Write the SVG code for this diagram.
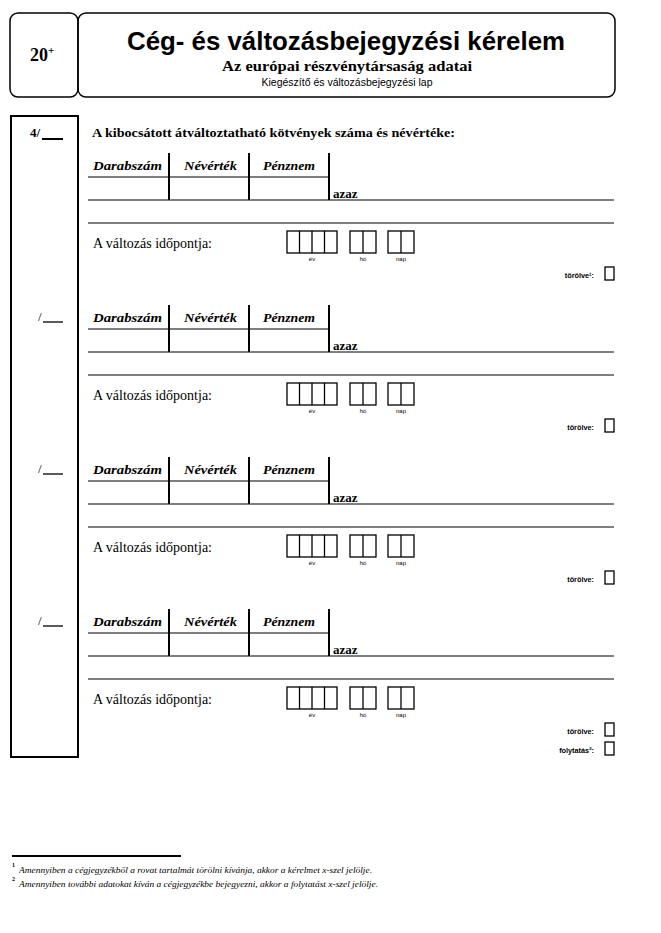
<svg xmlns="http://www.w3.org/2000/svg" width="661" height="933" viewBox="0 0 661 933">
<style>
.frame{fill:none;stroke:#000;stroke-width:1.5}
.col{fill:none;stroke:#000;stroke-width:2}
.h{stroke:#000;stroke-width:1.2}
.v{stroke:#000;stroke-width:2}
.bx{fill:none;stroke:#000;stroke-width:1.3}
.ck{fill:none;stroke:#000;stroke-width:1.3}
.serif{font-family:"Liberation Serif","Times New Roman",serif}
.sans{font-family:"Liberation Sans",Arial,sans-serif}
.title{font-family:"Liberation Sans",Arial,sans-serif;font-weight:bold;font-size:25px}
.sub{font-family:"Liberation Serif",serif;font-weight:bold;font-size:15px}
.sub2{font-family:"Liberation Sans",Arial,sans-serif;font-size:10px}
.hd{font-family:"Liberation Serif",serif;font-weight:bold;font-size:13px}
.th{font-family:"Liberation Serif",serif;font-weight:bold;font-style:italic;font-size:13.5px}
.az{font-family:"Liberation Serif",serif;font-weight:bold;font-size:13px}
.dt{font-family:"Liberation Serif",serif;font-size:14px}
.lb{font-family:"Liberation Sans",Arial,sans-serif;font-size:6px;text-anchor:middle}
.tr{font-family:"Liberation Sans",Arial,sans-serif;font-weight:bold;font-size:7.3px;text-anchor:end}
.num{font-family:"Liberation Serif",serif;font-size:13px}
.fn{font-family:"Liberation Serif",serif;font-style:italic;font-size:8.5px}
.fns{font-family:"Liberation Serif",serif;font-weight:bold;font-size:6px}
</style>
<rect width="661" height="933" fill="#fff"/>

<g id="header">
  <rect class="frame" x="10" y="13" width="68" height="84" rx="8"/>
  <rect class="frame" x="78" y="13" width="537" height="84" rx="8"/>
  <text class="serif" x="30" y="61" font-size="18" font-weight="bold">20<tspan font-size="11" dy="-7">+</tspan></text>
  <text class="title" x="346" y="50" text-anchor="middle" textLength="438" lengthAdjust="spacingAndGlyphs">Cég- és változásbejegyzési kérelem</text>
  <text class="sub" x="347" y="71" text-anchor="middle" textLength="250" lengthAdjust="spacingAndGlyphs">Az európai részvénytársaság adatai</text>
  <text class="sub2" x="347" y="86" text-anchor="middle" textLength="171" lengthAdjust="spacingAndGlyphs">Kiegészítő és változásbejegyzési lap</text>
</g>

<g id="left-column">
  <rect class="col" x="11" y="116" width="67" height="641"/>
  <text class="num" x="30" y="137" font-weight="bold">4/</text>
  <line x1="42" y1="139" x2="63" y2="139" stroke="#000" stroke-width="2"/>
  <text class="num" x="38" y="321">/</text>
  <line x1="43" y1="322" x2="63" y2="322" stroke="#000" stroke-width="1.3"/>
  <text class="num" x="38" y="473">/</text>
  <line x1="43" y1="474" x2="63" y2="474" stroke="#000" stroke-width="1.3"/>
  <text class="num" x="38" y="625">/</text>
  <line x1="43" y1="626" x2="63" y2="626" stroke="#000" stroke-width="1.3"/>
</g>

<g id="section-1">
  <text class="hd" x="92" y="137" textLength="363" lengthAdjust="spacingAndGlyphs">A kibocsátott átváltoztatható kötvények száma és névértéke:</text>
  <line class="v" x1="169" y1="153" x2="169" y2="200"/>
  <line class="v" x1="249" y1="153" x2="249" y2="200"/>
  <line class="v" x1="329" y1="153" x2="329" y2="200"/>
  <text class="th" x="93" y="170" textLength="69" lengthAdjust="spacingAndGlyphs">Darabszám</text>
  <text class="th" x="184" y="170" textLength="53" lengthAdjust="spacingAndGlyphs">Névérték</text>
  <text class="th" x="263" y="170" textLength="52" lengthAdjust="spacingAndGlyphs">Pénznem</text>
  <line class="h" x1="88" y1="177" x2="329" y2="177"/>
  <line class="h" x1="88" y1="200" x2="614" y2="200"/>
  <text class="az" x="333" y="198">azaz</text>
  <line class="h" x1="88" y1="223" x2="614" y2="223"/>
  <text class="dt" x="93" y="248">A változás időpontja:</text>
  <rect class="bx" x="287" y="231" width="50" height="22"/>
  <line class="bx" x1="299.5" y1="231" x2="299.5" y2="253" stroke-width="2"/>
  <line class="bx" x1="312" y1="231" x2="312" y2="253"/>
  <line class="bx" x1="324.5" y1="231" x2="324.5" y2="253"/>
  <rect class="bx" x="350" y="231" width="26" height="22"/>
  <line class="bx" x1="363" y1="231" x2="363" y2="253" stroke-width="2"/>
  <rect class="bx" x="388" y="231" width="26" height="22"/>
  <line class="bx" x1="401" y1="231" x2="401" y2="253"/>
  <text class="lb" x="312" y="261">év</text>
  <text class="lb" x="363" y="261">hó</text>
  <text class="lb" x="401" y="261">nap</text>
  <text class="tr" x="594" y="278">törölve¹:</text>
  <rect class="ck" x="605" y="267" width="9" height="13"/>
</g>

<g id="section-2" transform="translate(0,152)">
  <line class="v" x1="169" y1="153" x2="169" y2="200"/>
  <line class="v" x1="249" y1="153" x2="249" y2="200"/>
  <line class="v" x1="329" y1="153" x2="329" y2="200"/>
  <text class="th" x="93" y="170" textLength="69" lengthAdjust="spacingAndGlyphs">Darabszám</text>
  <text class="th" x="184" y="170" textLength="53" lengthAdjust="spacingAndGlyphs">Névérték</text>
  <text class="th" x="263" y="170" textLength="52" lengthAdjust="spacingAndGlyphs">Pénznem</text>
  <line class="h" x1="88" y1="177" x2="329" y2="177"/>
  <line class="h" x1="88" y1="200" x2="614" y2="200"/>
  <text class="az" x="333" y="198">azaz</text>
  <line class="h" x1="88" y1="223" x2="614" y2="223"/>
  <text class="dt" x="93" y="248">A változás időpontja:</text>
  <rect class="bx" x="287" y="231" width="50" height="22"/>
  <line class="bx" x1="299.5" y1="231" x2="299.5" y2="253" stroke-width="2"/>
  <line class="bx" x1="312" y1="231" x2="312" y2="253"/>
  <line class="bx" x1="324.5" y1="231" x2="324.5" y2="253"/>
  <rect class="bx" x="350" y="231" width="26" height="22"/>
  <line class="bx" x1="363" y1="231" x2="363" y2="253" stroke-width="2"/>
  <rect class="bx" x="388" y="231" width="26" height="22"/>
  <line class="bx" x1="401" y1="231" x2="401" y2="253"/>
  <text class="lb" x="312" y="261">év</text>
  <text class="lb" x="363" y="261">hó</text>
  <text class="lb" x="401" y="261">nap</text>
  <text class="tr" x="594" y="278">törölve:</text>
  <rect class="ck" x="605" y="267" width="9" height="13"/>
</g>

<g id="section-3" transform="translate(0,304)">
  <line class="v" x1="169" y1="153" x2="169" y2="200"/>
  <line class="v" x1="249" y1="153" x2="249" y2="200"/>
  <line class="v" x1="329" y1="153" x2="329" y2="200"/>
  <text class="th" x="93" y="170" textLength="69" lengthAdjust="spacingAndGlyphs">Darabszám</text>
  <text class="th" x="184" y="170" textLength="53" lengthAdjust="spacingAndGlyphs">Névérték</text>
  <text class="th" x="263" y="170" textLength="52" lengthAdjust="spacingAndGlyphs">Pénznem</text>
  <line class="h" x1="88" y1="177" x2="329" y2="177"/>
  <line class="h" x1="88" y1="200" x2="614" y2="200"/>
  <text class="az" x="333" y="198">azaz</text>
  <line class="h" x1="88" y1="223" x2="614" y2="223"/>
  <text class="dt" x="93" y="248">A változás időpontja:</text>
  <rect class="bx" x="287" y="231" width="50" height="22"/>
  <line class="bx" x1="299.5" y1="231" x2="299.5" y2="253" stroke-width="2"/>
  <line class="bx" x1="312" y1="231" x2="312" y2="253"/>
  <line class="bx" x1="324.5" y1="231" x2="324.5" y2="253"/>
  <rect class="bx" x="350" y="231" width="26" height="22"/>
  <line class="bx" x1="363" y1="231" x2="363" y2="253" stroke-width="2"/>
  <rect class="bx" x="388" y="231" width="26" height="22"/>
  <line class="bx" x1="401" y1="231" x2="401" y2="253"/>
  <text class="lb" x="312" y="261">év</text>
  <text class="lb" x="363" y="261">hó</text>
  <text class="lb" x="401" y="261">nap</text>
  <text class="tr" x="594" y="278">törölve:</text>
  <rect class="ck" x="605" y="267" width="9" height="13"/>
</g>

<g id="section-4" transform="translate(0,456)">
  <line class="v" x1="169" y1="153" x2="169" y2="200"/>
  <line class="v" x1="249" y1="153" x2="249" y2="200"/>
  <line class="v" x1="329" y1="153" x2="329" y2="200"/>
  <text class="th" x="93" y="170" textLength="69" lengthAdjust="spacingAndGlyphs">Darabszám</text>
  <text class="th" x="184" y="170" textLength="53" lengthAdjust="spacingAndGlyphs">Névérték</text>
  <text class="th" x="263" y="170" textLength="52" lengthAdjust="spacingAndGlyphs">Pénznem</text>
  <line class="h" x1="88" y1="177" x2="329" y2="177"/>
  <line class="h" x1="88" y1="200" x2="614" y2="200"/>
  <text class="az" x="333" y="198">azaz</text>
  <line class="h" x1="88" y1="223" x2="614" y2="223"/>
  <text class="dt" x="93" y="248">A változás időpontja:</text>
  <rect class="bx" x="287" y="231" width="50" height="22"/>
  <line class="bx" x1="299.5" y1="231" x2="299.5" y2="253" stroke-width="2"/>
  <line class="bx" x1="312" y1="231" x2="312" y2="253"/>
  <line class="bx" x1="324.5" y1="231" x2="324.5" y2="253"/>
  <rect class="bx" x="350" y="231" width="26" height="22"/>
  <line class="bx" x1="363" y1="231" x2="363" y2="253" stroke-width="2"/>
  <rect class="bx" x="388" y="231" width="26" height="22"/>
  <line class="bx" x1="401" y1="231" x2="401" y2="253"/>
  <text class="lb" x="312" y="261">év</text>
  <text class="lb" x="363" y="261">hó</text>
  <text class="lb" x="401" y="261">nap</text>
  <text class="tr" x="594" y="278">törölve:</text>
  <rect class="ck" x="605" y="267" width="9" height="13"/>
  <text class="tr" x="594" y="297">folytatás²:</text>
  <rect class="ck" x="605" y="286" width="9" height="13"/>
</g>

<g id="footnotes">
  <line x1="12" y1="856" x2="181" y2="856" stroke="#000" stroke-width="2"/>
  <text class="fns" x="12" y="867">1</text>
  <text class="fn" x="19" y="873" textLength="353" lengthAdjust="spacingAndGlyphs">Amennyiben a cégjegyzékből a rovat tartalmát törölni kívánja, akkor a kérelmet x-szel jelölje.</text>
  <text class="fns" x="12" y="881">2</text>
  <text class="fn" x="19" y="887" textLength="359" lengthAdjust="spacingAndGlyphs">Amennyiben további adatokat kíván a cégjegyzékbe bejegyezni, akkor a folytatást x-szel jelölje.</text>
</g>
</svg>
